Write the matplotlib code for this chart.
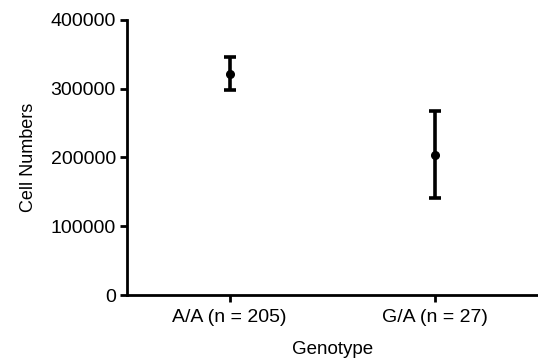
import matplotlib
matplotlib.use("Agg")
import matplotlib.pyplot as plt

categories = ["A/A (n = 205)", "G/A (n = 27)"]
means = [322000, 204000]
errors = [23500, 63500]
yticks = [0, 100000, 200000, 300000, 400000]

plt.rcParams['font.family'] = ['Liberation Sans', 'DejaVu Sans']

fig = plt.figure(figsize=(5.38, 3.61), dpi=100)
ax = fig.add_axes([127/538, 66/361, 1 - 127/538, 275/361])

x = list(range(len(categories)))
ax.errorbar(x, means, yerr=errors, fmt='o', color='black', markersize=5.5,
            elinewidth=2.6, capsize=4, capthick=2.6)

ax.set_xlim(-0.5, 1.5)
ax.set_ylim(0, 400000)
ax.set_yticks(yticks)
ax.set_yticklabels([str(v) for v in yticks])
ax.set_xticks(x)
ax.set_xticklabels(categories)
for s in ['top', 'right']:
    ax.spines[s].set_visible(False)
for s in ['left', 'bottom']:
    ax.spines[s].set_linewidth(2)
ax.tick_params(axis='both', width=2, length=5, labelsize=14, direction='out')
ax.tick_params(axis='y', pad=3)
ax.tick_params(axis='x', pad=5)
ax.set_ylabel("Cell Numbers", fontsize=13, labelpad=10)
ax.set_xlabel("Genotype", fontsize=13.5, labelpad=11)

fig.savefig("out.png", dpi=100)
